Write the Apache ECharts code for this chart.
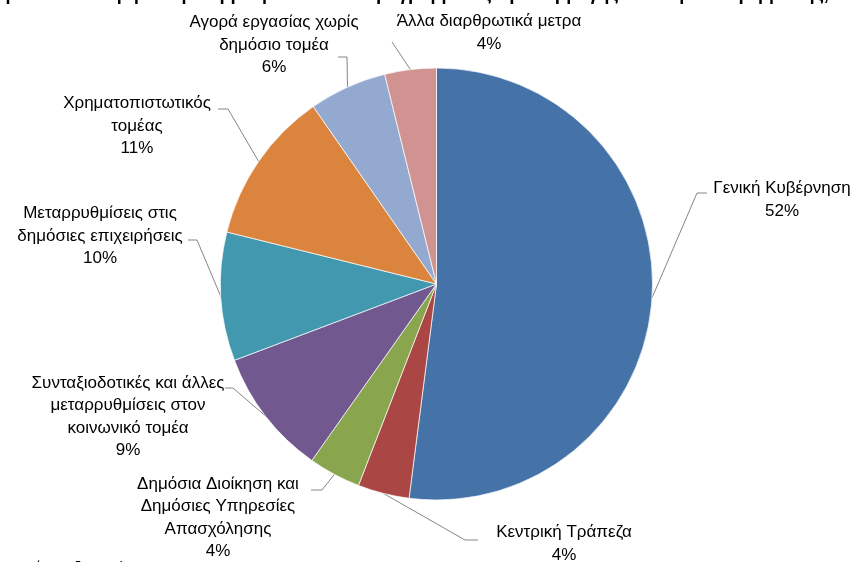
<!DOCTYPE html>
<html>
<head>
<meta charset="utf-8">
<script src="https://cdn.jsdelivr.net/npm/echarts@6/dist/echarts.min.js"></script>
<style>
  html, body { margin: 0; padding: 0; background: #fff; }
  #chart { width: 853px; height: 562px; }
</style>
</head>
<body>
<div id="chart"></div>
<script>
// τομείς μεταρρυθμίσεων (με τη σειρά του γραφήματος)
const sectors = [
  "Γενική Κυβέρνηση",
  "Κεντρική Τράπεζα",
  "Δημόσια Διοίκηση και\nΔημόσιες Υπηρεσίες\nΑπασχόλησης",
  "Συνταξιοδοτικές και άλλες\nμεταρρυθμίσεις στον\nκοινωνικό τομέα",
  "Μεταρρυθμίσεις στις\nδημόσιες επιχειρήσεις",
  "Χρηματοπιστωτικός\nτομέας",
  "Αγορά εργασίας χωρίς\nδημόσιο τομέα",
  "Άλλα διαρθρωτικά μετρα"
]
// μερίδια (%)
const shares = [51.95, 3.85, 3.9, 9.45, 9.6, 11.45, 5.8, 3.85]

const colors = ["#4572A7", "#AA4643", "#89A54E", "#71588F", "#4198AF", "#DB843D", "#93A9CF", "#D19392"]

// θέση ετικετών: [κέντρο x, κέντρο y, σημείο σύνδεσης x, y, μήκος οριζόντιου τμήματος]
const labelSpots = [
  [782, 200, 707, 193, -10],
  [564, 544, 478, 540, -13],
  [218, 518, 311, 490, 11],
  [128, 417, 225, 388, 8],
  [100, 236, 188, 240, 9],
  [137, 126, 218, 109, 10],
  [274, 45, 338, 57, 9],
  [489, 33, 392, 42, 0]
]

const chart = echarts.init(document.getElementById("chart"))

const option = {
  backgroundColor: "#fff",
  animation: false,
  color: colors,
  title: [
    {
      text: "Διάγραμμα 2: Κατανομή των μεταρρυθμίσεων του Προγράμματος Προσαρμογής ανά τομέα παρέμβασης, 2010-2014",
      left: "center",
      top: -19,
      textStyle: { fontFamily: "Liberation Sans", fontSize: 18, fontWeight: "bold", color: "#000" }
    },
    {
      text: "Πηγή: Επεξεργασία ΚΕΠΕ",
      left: 4,
      top: 556,
      textStyle: { fontFamily: "Liberation Sans", fontSize: 14, fontWeight: "normal", color: "#000" }
    }
  ],
  series: [
    {
      type: "pie",
      center: [436.5, 284],
      radius: 216,
      startAngle: 90,
      clockwise: true,
      avoidLabelOverlap: false,
      itemStyle: { borderColor: "#fff", borderWidth: 0.7 },
      label: {
        show: true,
        position: "outside",
        formatter: (p) => p.name + "\n" + Math.round(p.value) + "%",
        fontFamily: "Liberation Sans",
        fontSize: 17,
        lineHeight: 22.5,
        color: "#000"
      },
      labelLine: {
        show: true,
        length: 20,
        length2: 10,
        lineStyle: { color: "#868686", width: 1 }
      },
      labelLayout: (p) => {
        const s = labelSpots[p.dataIndex]
        const edge = p.labelLinePoints ? p.labelLinePoints[0] : [s[2], s[3]]
        return {
          x: s[0],
          y: s[1],
          align: "center",
          verticalAlign: "middle",
          labelLinePoints: [edge, [s[2] + s[4], s[3]], [s[2], s[3]]]
        }
      },
      emphasis: { disabled: true },
      data: sectors.map((name, i) => ({ name: name, value: shares[i] }))
    }
  ]
}

chart.setOption(option)
</script>
</body>
</html>
